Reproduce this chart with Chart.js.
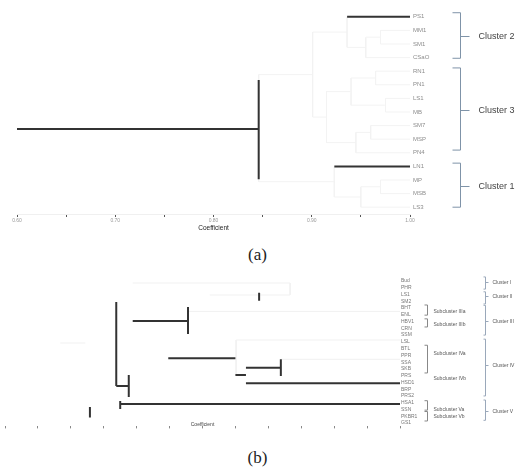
<!DOCTYPE html>
<html>
<head>
<meta charset="utf-8">
<script src="https://cdn.jsdelivr.net/npm/chart.js@4.4.0/dist/chart.umd.min.js"></script>
<style>
  html, body { margin: 0; padding: 0; background: #fff; }
  body { width: 515px; height: 468px; position: relative; overflow: hidden; }
  #wrapA { position: absolute; left: 0; top: 0; width: 515px; height: 236px; }
  #wrapB { position: absolute; left: 0; top: 270px; width: 515px; height: 162px; }
  .caption { position: absolute; left: 0; width: 515px; text-align: center;
             font-family: 'Liberation Serif', serif; font-size: 17px; color: #222; line-height: 18px; }
</style>
</head>
<body>
<div id="wrapA"><canvas id="chartA" width="515" height="236"></canvas></div>
<div class="caption" style="top: 246px">(a)</div>
<div id="wrapB"><canvas id="chartB" width="515" height="162"></canvas></div>
<div class="caption" style="top: 449px">(b)</div>

<script>
// ---------- (a) ----------
const leavesA = ['PS1', 'MM1', 'SM1', 'CSaO', 'RN1', 'PN1', 'LS1', 'MB', 'SM7', 'MSP', 'PN4', 'LN1', 'MP', 'MSB', 'LS3'];
const tickLabelsA = [0.60, 0.70, 0.80, 0.90, 1.00];
// merges: [childA, childB, coefficient]; ids 0..14 are leaves, merged nodes follow
const mergesA = [
    [1, 2, 0.97], [15, 3, 0.955], [0, 16, 0.936],
    [4, 5, 0.965], [6, 7, 0.975], [18, 19, 0.94], [8, 9, 0.96], [21, 10, 0.945], [20, 22, 0.915],
    [17, 23, 0.901],
    [12, 13, 0.97], [25, 14, 0.95], [11, 26, 0.923],
    [24, 27, 0.846]
];
// branches still dark in the scan: [coefFrom, leafFrom, coefTo, leafTo]
const darkA = [
    [0.60, 8.25, 0.846, 8.25],
    [0.846, 4.64, 0.846, 11.94],
    [0.936, 0, 1.0, 0],
    [0.923, 11, 1.0, 11]
];
// [label, fromLeaf, toLeaf, labelAt]
const clustersA = [
    ['Cluster 2', -0.3, 3.05, 1.4],
    ['Cluster 3', 3.76, 9.8, 6.85],
    ['Cluster 1', 10.76, 14.0, 12.45]
];

// ---------- (b) ----------
const leavesB = ['Bud', 'PHR', 'LS1', 'SM2', 'BHT', 'ENL', 'HBV1', 'CRN', 'SSM', 'LSL', 'BTL',
                 'PPR', 'SSA', 'SKB', 'PRS', 'HSD1', 'BRP', 'PRS2', 'HSA1', 'SSN', 'PKBR1', 'GS1'];
const darkB = [
    [0.569, 3.11, 0.569, 15.53],
    [0.569, 15.53, 0.588, 15.53],
    [0.588, 13.9, 0.588, 17.16],
    [0.594, 5.92, 0.678, 5.92],
    [0.678, 3.85, 0.678, 7.84],
    [0.648, 11.43, 0.750, 11.43],
    [0.766, 12.83, 0.819, 12.83],
    [0.819, 11.58, 0.819, 14.05],
    [0.750, 13.9, 0.766, 13.9],
    [0.766, 15.13, 1.0, 15.13],
    [0.575, 18.2, 1.0, 18.2],
    [0.575, 17.75, 0.575, 18.93],
    [0.529, 18.64, 0.529, 20.19],
    [0.786, 1.73, 0.786, 2.91]
];
const faintB = [
    [0.594, 0.3, 0.833, 0.3],
    [0.833, 0.3, 0.833, 2.07],
    [0.711, 2.07, 0.833, 2.07],
    [0.751, 8.73, 0.751, 13.9],
    [0.751, 8.73, 1.0, 8.73],
    [0.484, 9.17, 0.522, 9.17],
    [0.678, 4.5, 1.0, 4.5],
    [0.819, 11.58, 1.0, 11.58]
];
const subclustersB = [
    ['Subcluster IIIa', 3.55, 5.05, 4.4],
    ['Subcluster IIIb', 5.6, 6.8, 6.35],
    ['Subcluster IVa', 9.5, 13.6, 10.65],
    ['Subcluster IVb', 14.35, 14.35, 14.35],
    ['Subcluster Va', 17.7, 19.1, 18.9],
    ['Subcluster Vb', 19.3, 20.7, 19.97]
];
const clustersB = [
    ['Cluster I', -0.6, 1.2, 0.15],
    ['Cluster II', 1.6, 3.4, 2.2],
    ['Cluster III', 3.6, 8.0, 5.9],
    ['Cluster IV', 8.6, 17.0, 12.4],
    ['Cluster V', 17.6, 20.6, 19.2]
];

Chart.defaults.font.family = "'Liberation Sans', Arial, sans-serif";

function treeSegments(nLeaves, merges, top) {
    const pos = [];
    for (let i = 0; i < nLeaves; i++) pos.push({ y: i, h: top });
    const segs = [];
    merges.forEach(([a, b, h]) => {
        const A = pos[a], B = pos[b];
        segs.push([A.h, A.y, h, A.y], [B.h, B.y, h, B.y], [h, A.y, h, B.y]);
        pos.push({ y: (A.y + B.y) / 2, h: h });
    });
    return segs;
}

function segDatasets(segs, color, width) {
    return segs.map(s => ({
        data: [{ x: s[0], y: s[1] }, { x: s[2], y: s[3] }],
        showLine: true,
        borderColor: color,
        borderWidth: width,
        pointRadius: 0,
        fill: false
    }));
}

function stepTicks(min, max, step) {
    const out = [];
    for (let v = min; v <= max + 1e-9; v += step) out.push({ value: Math.round(v * 1000) / 1000 });
    return out;
}

// draws the bracket columns to the right of the leaf labels
function bracketPlugin(groups) {
    return {
        id: 'brackets',
        afterDraw(chart) {
            const ctx = chart.ctx;
            const ys = chart.scales.y;
            const right = chart.chartArea.right;
            groups.forEach(g => {
                const xv = Math.round(right + g.offset) + 0.5;
                ctx.save();
                ctx.strokeStyle = g.color;
                ctx.lineWidth = 1;
                ctx.fillStyle = g.textColor;
                ctx.font = g.font;
                ctx.textBaseline = 'middle';
                g.items.forEach(([label, from, to, at]) => {
                    const y1 = ys.getPixelForValue(from);
                    const y2 = ys.getPixelForValue(to);
                    const ym = Math.round(ys.getPixelForValue(at)) + 0.5;
                    ctx.beginPath();
                    if (to > from) {
                        ctx.moveTo(xv - g.end, y1);
                        ctx.lineTo(xv, y1);
                        ctx.lineTo(xv, y2);
                        ctx.lineTo(xv - g.end, y2);
                    }
                    if (g.tick) {
                        ctx.moveTo(xv, ym);
                        ctx.lineTo(xv + g.tick, ym);
                    }
                    ctx.stroke();
                    ctx.fillText(label, xv + g.gap, ym);
                });
                ctx.restore();
            });
        }
    };
}

function initChartA() {
    const faint = treeSegments(leavesA.length, mergesA, 1.0);
    new Chart(document.getElementById('chartA').getContext('2d'), {
        type: 'scatter',
        data: {
            // Chart.js paints the first dataset last, so dark branches go first
            datasets: segDatasets(darkA, '#333333', 2).concat(segDatasets(faint, '#f3f3f3', 1))
        },
        options: {
            responsive: false,
            animation: false,
            layout: { padding: { left: 17, top: 10, right: 0, bottom: 0 } },
            plugins: { legend: { display: false }, tooltip: { enabled: false } },
            scales: {
                x: {
                    type: 'linear', min: 0.6, max: 1.0,
                    afterBuildTicks: s => { s.ticks = stepTicks(0.6, 1.0, 0.05); },
                    ticks: {
                        autoSkip: false, maxRotation: 0, padding: 1,
                        font: { size: 5 }, color: '#999',
                        callback: v => tickLabelsA.some(t => Math.abs(t - v) < 1e-6) ? v.toFixed(2) : ''
                    },
                    grid: { drawOnChartArea: false, tickLength: 3, color: '#555' },
                    border: { display: true, color: '#f0f0f0' },
                    title: { display: true, text: 'Coefficient', font: { size: 6.5 }, color: '#222', padding: { top: 0, bottom: 4 } },
                    afterFit: s => { s.height = 22; }
                },
                y: {
                    type: 'linear', position: 'right', reverse: true, min: -0.5, max: leavesA.length - 0.5,
                    afterBuildTicks: s => { s.ticks = leavesA.map((_, i) => ({ value: i })); },
                    ticks: { autoSkip: false, padding: 3, font: { size: 6 }, color: '#8c8c8c', callback: v => leavesA[v] },
                    grid: { display: false, drawTicks: false },
                    border: { display: false },
                    afterFit: s => { s.width = 105; }
                }
            }
        },
        plugins: [bracketPlugin([
            { items: clustersA, offset: 50, end: 8, tick: 9, gap: 18, color: '#7f93a8', textColor: '#444', font: "9px 'Liberation Sans'" }
        ])]
    });
}

function initChartB() {
    new Chart(document.getElementById('chartB').getContext('2d'), {
        type: 'scatter',
        data: {
            datasets: segDatasets(darkB, '#333333', 2).concat(segDatasets(faintB, '#f1f1f1', 1))
        },
        options: {
            responsive: false,
            animation: false,
            layout: { padding: { left: 5, top: 7.6, right: 0, bottom: 0 } },
            plugins: { legend: { display: false }, tooltip: { enabled: false } },
            scales: {
                x: {
                    type: 'linear', min: 0.4, max: 1.0,
                    afterBuildTicks: s => { s.ticks = stepTicks(0.4, 1.0, 0.05); },
                    ticks: { autoSkip: false, maxRotation: 0, callback: () => '' },
                    grid: { drawOnChartArea: false, tickLength: 2, color: '#888' },
                    border: { display: false },
                    title: { display: true, text: 'Coefficient', font: { size: 5 }, color: '#444', padding: { top: 0, bottom: 4 } },
                    afterFit: s => { s.height = 5.6; }
                },
                y: {
                    type: 'linear', position: 'right', reverse: true, min: -0.5, max: leavesB.length - 0.5,
                    afterBuildTicks: s => { s.ticks = leavesB.map((_, i) => ({ value: i })); },
                    ticks: { autoSkip: false, padding: 1, font: { size: 5 }, color: '#777', callback: v => leavesB[v] },
                    grid: { display: false, drawTicks: false },
                    border: { display: false },
                    afterFit: s => { s.width = 115; }
                }
            }
        },
        plugins: [bracketPlugin([
            { items: subclustersB, offset: 27, end: 3, tick: 0, gap: 6, color: '#888', textColor: '#555', font: "5px 'Liberation Sans'" },
            { items: clustersB, offset: 85, end: 2, tick: 3, gap: 7, color: '#9aa8ba', textColor: '#555', font: "5px 'Liberation Sans'" }
        ])]
    });
}

document.addEventListener('DOMContentLoaded', function() {
    initChartA();
    initChartB();
});
</script>
</body>
</html>
